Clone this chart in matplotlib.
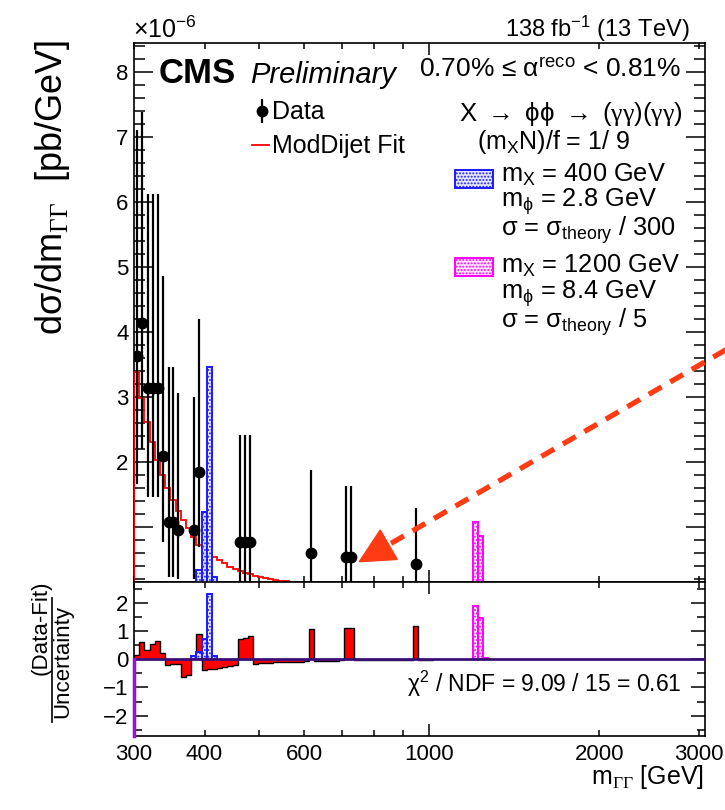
import numpy as np
import matplotlib.pyplot as plt
from matplotlib.patches import Rectangle, Polygon
from matplotlib.lines import Line2D
from matplotlib.ticker import FixedLocator, FixedFormatter, NullFormatter, MultipleLocator

plt.rcParams['font.family'] = ['Liberation Sans', 'DejaVu Sans']
plt.rcParams['mathtext.fontset'] = 'custom'
plt.rcParams['mathtext.rm'] = 'Liberation Sans'
plt.rcParams['mathtext.it'] = 'Liberation Sans:italic'
plt.rcParams['mathtext.bf'] = 'Liberation Sans:bold'
# serif greek letters (gamma, Gamma) go through \mathsf
plt.rcParams['mathtext.sf'] = 'Liberation Serif'
plt.rcParams['hatch.linewidth'] = 0.9

# m_GG bin edges [GeV]
edges = [300.0, 306.4, 313.0, 319.7, 326.5, 333.5, 340.6, 347.9, 355.4, 363.0,
         370.7, 378.6, 386.8, 395.1, 403.5, 412.2, 421.0, 430.0, 439.2, 448.6,
         458.2, 468.0, 478.0, 488.2, 498.3, 508.6, 519.1, 529.9, 540.8, 552.0,
         563.4, 575.1, 587.0, 599.1, 611.5, 624.1, 636.9, 650.0, 663.4, 677.0,
         690.9, 705.1, 719.6, 734.4, 749.5, 765.0, 780.7, 796.8, 813.2, 829.9,
         847.0, 864.4, 882.2, 900.3, 918.8, 937.7, 957.0, 976.7, 996.8, 1017.3,
         1038.2, 1059.6, 1081.4, 1103.6, 1126.3, 1149.5, 1173.1, 1197.2, 1221.8, 1246.9,
         1272.6]

# ModDijet fit per bin, units of 1e-6 pb/GeV
fit = [3.375, 2.985, 2.606, 2.298, 2.026, 1.795, 1.59, 1.41, 1.24, 1.10,
       0.975, 0.846, 0.718, 0.65, 0.59, 0.54, 0.488, 0.437, 0.385, 0.345,
       0.318, 0.29, 0.267, 0.24, 0.22, 0.206, 0.19, 0.18, 0.168, 0.158, 0.148]

# data points: mass, value and 68% interval bounds (1e-6 pb/GeV)
data_mass = [304, 310, 317.8, 324.3, 331, 337.8, 345.6, 351.9, 359.6, 383.4,
             391.3, 463, 472, 482, 617.4, 712, 727, 947]
data_val = [3.63, 4.14, 3.13, 3.13, 3.13, 2.09, 1.08, 1.08, 0.95, 0.95,
            1.84, 0.765, 0.765, 0.765, 0.60, 0.53, 0.53, 0.43]
data_lo = [1.66, 2.20, 1.46, 1.46, 1.46, 0.77, 0.22, 0.22, 0.20, 0.20,
           0.69, 0.13, 0.13, 0.13, 0.10, 0.09, 0.09, 0.07]
data_hi = [7.10, 7.38, 6.12, 6.12, 6.12, 4.85, 3.45, 3.45, 3.05, 3.00,
           4.20, 2.41, 2.41, 2.41, 1.87, 1.63, 1.63, 1.29]

# (data - fit) / uncertainty per bin
pull = [0.14, 0.60, 0.32, 0.53, 0.65, 0.24, -0.21, -0.18, -0.16, -0.63,
        -0.57, 0.05, 0.91, -0.39, -0.36, -0.33, -0.30, -0.27, -0.25, -0.22,
        0.71, 0.76, 0.81, -0.15, -0.14, -0.13, -0.12, -0.11, -0.10, -0.10,
        -0.09, -0.08, -0.08, -0.07, 1.06, -0.06, -0.06, -0.05, -0.05, -0.05,
        -0.04, 1.10, 1.12, -0.04, -0.04, -0.03, -0.03, -0.03, -0.03, -0.02,
        -0.02, -0.02, -0.02, -0.02, -0.01, 1.17, -0.01, -0.01, -0.01]

# signal templates
sig400_first = 11
sig400 = [0.10, 0.33, 1.23, 3.45, 0.22]
sig400_pull = [0.10, 0.26, 0.71, 2.30, 0.10]
sig1200_first = 67
sig1200 = [1.07, 0.86, 0.02]
sig1200_pull = [1.90, 1.47, 0.03]

xticks_lab = ['300', '400', '', '600', '', '', '', '2000', '3000']

fig = plt.figure(figsize=(7.25, 8.1), dpi=100)


def fx(x):
    return x / 725


def fy(y):
    return 1 - y / 810


ax = fig.add_axes([fx(134), fy(581.7), fx(705) - fx(134), fy(42.7) - fy(581.7)])
axp = fig.add_axes([fx(134), fy(736), fx(705) - fx(134), fy(581.7) - fy(736)])


def sig_bars(a, first, vals, edge, face):
    lo = np.array(edges[first:first + len(vals)])
    hi = np.array(edges[first + 1:first + len(vals) + 1])
    a.bar(lo, vals, width=hi - lo, align='edge', facecolor=face,
          edgecolor=edge, hatch='.....', lw=1.4, zorder=4)


# upper panel
ax.stairs(fit, edges[:len(fit) + 1], baseline=0, color='red', lw=1.3, zorder=3)
sig_bars(ax, sig400_first, sig400, '#1a1aff', '#e4e6ff')
sig_bars(ax, sig1200_first, sig1200, '#ff00ff', '#ffe4ff')
val = np.array(data_val)
ax.errorbar(data_mass, val, yerr=[val - np.array(data_lo), np.array(data_hi) - val],
            fmt='o', color='black', ms=7.5, elinewidth=1.6, capsize=0, zorder=6)

# lower panel
axp.stairs(pull, edges[:len(pull) + 1], baseline=0, fill=True,
           facecolor='red', edgecolor='black', lw=1.0, zorder=3)
sig_bars(axp, sig400_first, sig400_pull, '#1a1aff', '#e4e6ff')
sig_bars(axp, sig1200_first, sig1200_pull, '#ff00ff', '#ffe4ff')
axp.axhline(0, color='#3a1078', lw=2, zorder=7)
axp.plot([300, 300], [0, -2.72], color='#9a10d8', lw=2.5, zorder=8, clip_on=False)

for a in (ax, axp):
    a.set_xscale('log')
    a.set_xlim(300, 3080)
    a.xaxis.set_major_locator(FixedLocator([1000]))
    a.xaxis.set_minor_locator(FixedLocator([300, 400, 500, 600, 700, 800, 900, 2000, 3000]))
    a.tick_params(which='both', direction='in', top=True, right=True, width=1.1,
                  labelsize=16, pad=4)
    a.tick_params(axis='x', which='major', length=8.6)
    a.tick_params(axis='x', which='minor', length=4.3)
    for s in a.spines.values():
        s.set_linewidth(1.2)

ax.xaxis.set_major_formatter(NullFormatter())
ax.xaxis.set_minor_formatter(NullFormatter())
axp.xaxis.set_major_formatter(FixedFormatter(['1000']))
axp.xaxis.set_minor_formatter(FixedFormatter(xticks_lab))
axp.tick_params(axis='x', which='both', pad=6)

ax.set_ylim(0.154, 8.446)
ax.yaxis.set_major_locator(FixedLocator([1, 2, 3, 4, 5, 6, 7, 8]))
ax.yaxis.set_major_formatter(FixedFormatter(['', '2', '3', '4', '5', '6', '7', '8']))
ax.yaxis.set_minor_locator(MultipleLocator(0.2))
ax.tick_params(axis='y', which='major', length=14)
ax.tick_params(axis='y', which='minor', length=8)

axp.set_ylim(-2.72, 2.75)
axp.yaxis.set_major_locator(FixedLocator([-2, -1, 0, 1, 2]))
axp.yaxis.set_minor_locator(MultipleLocator(0.5))
axp.tick_params(axis='y', which='major', length=10)
axp.tick_params(axis='y', which='minor', length=5.5)

# axis titles
fig.text(fx(53), fy(40), 'dσ/dm$_{\\mathsf{ΓΓ}}$  [pb/GeV]', fontsize=26,
         rotation=90, ha='center', va='top')
fig.text(fx(704), fy(784), 'm$_{\\mathsf{ΓΓ}}$ [GeV]', fontsize=18,
         ha='right', va='baseline')
fig.text(fx(41), fy(628), '(Data-Fit)', fontsize=16, rotation=90, ha='center', va='center')
fig.text(fx(63), fy(661), 'Uncertainty', fontsize=16, rotation=90, ha='center', va='center')
fig.add_artist(Line2D([fx(52), fx(52)], [fy(598), fy(722)], color='black', lw=1.2,
                      transform=fig.transFigure))

# headers
fig.text(fx(133), fy(38), '×10$^{-6}$', fontsize=18, va='baseline')
fig.text(fx(690), fy(37), '138 fb$^{-1}$ (13 TeV)', fontsize=17, ha='right', va='baseline')
fig.text(fx(159), fy(83), 'CMS', fontsize=25, weight='bold', va='baseline')
fig.text(fx(250), fy(83), 'Preliminary', fontsize=21, style='italic', va='baseline')
fig.text(fx(681), fy(77.5), '0.70% ≤ α$^{\\mathrm{reco}}$ < 0.81%', fontsize=19,
         ha='right', va='baseline')

# legend
fig.add_artist(Line2D([fx(262), fx(262)], [fy(100), fy(122)], color='black', lw=1.6,
                      transform=fig.transFigure))
fig.add_artist(Line2D([fx(262)], [fy(111)], marker='o', ms=7.5, color='black',
                      transform=fig.transFigure))
fig.text(fx(272), fy(119), 'Data', fontsize=18, va='baseline')
fig.add_artist(Line2D([fx(252), fx(269)], [fy(145), fy(145)], color='red', lw=1.3,
                      transform=fig.transFigure))
fig.text(fx(272), fy(153), 'ModDijet Fit', fontsize=18, va='baseline')

fig.text(fx(683), fy(121), 'X $\\rightarrow$ ϕϕ $\\rightarrow$ ($\\mathsf{γγ}$)($\\mathsf{γγ}$)',
         fontsize=18.5, ha='right', va='baseline')
fig.text(fx(477), fy(149), '(m$_\\mathrm{X}$N)/f = 1/ 9', fontsize=18, va='baseline')

for top, edge, face in [(170, '#1a1aff', '#e4e6ff'), (258, '#ff00ff', '#ffe4ff')]:
    fig.add_artist(Rectangle((fx(455), fy(top + 18)), fx(493) - fx(455), fy(top) - fy(top + 18),
                             facecolor=face, edgecolor=edge, hatch='.....', lw=1.4,
                             transform=fig.transFigure))

sig_lines = [(182, 'm$_\\mathrm{X}$ = 400 GeV'),
             (207, 'm$_\\mathrm{ϕ}$ = 2.8 GeV'),
             (236, 'σ = σ$_\\mathrm{theory}$ / 300'),
             (273, 'm$_\\mathrm{X}$ = 1200 GeV'),
             (299, 'm$_\\mathrm{ϕ}$ = 8.4 GeV'),
             (328, 'σ = σ$_\\mathrm{theory}$ / 5')]
for y, s in sig_lines:
    fig.text(fx(501), fy(y), s, fontsize=18.3, va='baseline')

fig.text(fx(681), fy(692), 'χ$^{2}$ / NDF = 9.09 / 15 = 0.61', fontsize=16.5,
         ha='right', va='baseline')

# dashed arrow pointing at the high-mass tail
arrow_col = '#ff3b14'
fig.add_artist(Line2D([fx(735), fx(388.7)], [fy(344.5), fy(544.7)], color=arrow_col,
                      lw=3.8, ls=(0, (2.8, 1.9)), solid_capstyle='butt',
                      transform=fig.transFigure))
fig.add_artist(Polygon([(fx(359.3), fy(561.7)), (fx(397.2), fy(559.4)), (fx(380.2), fy(530.0))],
                       closed=True, color=arrow_col, transform=fig.transFigure))

fig.savefig('out.png', dpi=100)
